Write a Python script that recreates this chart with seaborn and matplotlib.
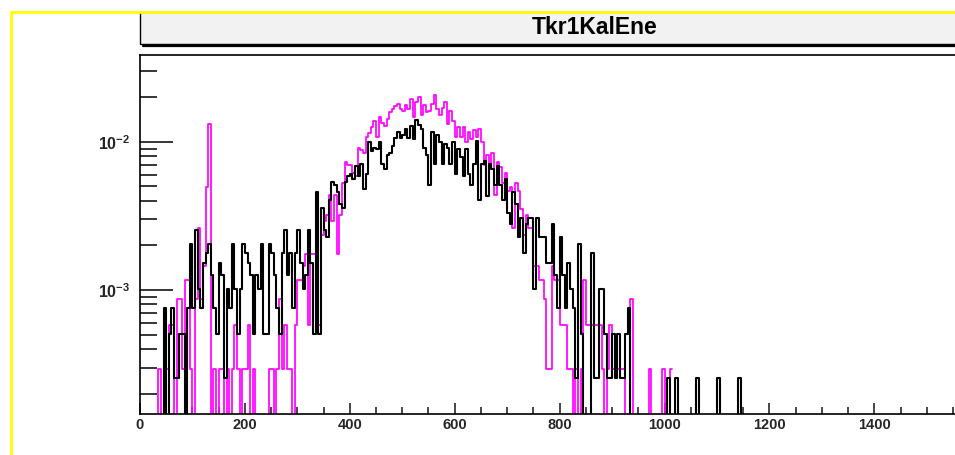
import numpy as np
import pandas as pd
import matplotlib
matplotlib.use("Agg")
import matplotlib.pyplot as plt
from matplotlib.patches import Rectangle
from matplotlib.lines import Line2D
from matplotlib.ticker import (FixedLocator, FixedFormatter, LogLocator,
                               MultipleLocator, NullFormatter)
import seaborn as sns

# ---------------------------------------------------------------- data
title = "Tkr1KalEne"
bin_width = 5.0

# entries per 5-unit bin, starting at 0
black_counts = [
    0, 0, 0, 0, 0, 0, 0, 0, 0, 3,
    0, 2, 3, 1, 1, 2, 2, 0, 3, 8,
    3, 10, 4, 3, 6, 7, 8, 5, 3, 2,
    6, 5, 1, 4, 3, 8, 4, 2, 4, 8,
    7, 6, 5, 2, 5, 4, 8, 2, 2, 8,
    7, 5, 3, 2, 7, 10, 5, 7, 3, 7,
    10, 6, 4, 5, 10, 6, 2, 18, 2, 14,
    10, 9, 16, 21, 20, 18, 15, 14, 21, 23,
    24, 22, 27, 23, 28, 19, 24, 39, 34, 36,
    35, 39, 28, 26, 32, 33, 37, 42, 46, 42,
    44, 48, 42, 50, 41, 55, 51, 48, 36, 32,
    20, 46, 28, 44, 39, 28, 38, 36, 28, 39,
    24, 35, 31, 23, 35, 24, 20, 28, 40, 16,
    28, 29, 17, 28, 26, 20, 27, 20, 16, 22,
    13, 11, 18, 15, 9, 12, 7, 11, 12, 12,
    4, 12, 9, 9, 9, 6, 6, 11, 5, 3,
    9, 5, 3, 6, 4, 3, 1, 8, 2, 0,
    0, 0, 7, 1, 1, 4, 4, 2, 1, 1,
    2, 1, 2, 1, 1, 2, 3, 0, 0, 0,
    0, 0, 0, 0, 0, 0, 0, 0, 0, 0,
    0, 1, 0, 0, 1, 0, 0, 0, 0, 0,
    0, 0, 1, 0, 0, 0, 0, 0, 0, 0,
    1, 0, 0, 0, 0, 0, 0, 0, 1, 0,
]

magenta_counts = [
    0, 0, 0, 0, 0, 0, 0, 1, 0, 0,
    1, 2, 2, 0, 3, 3, 1, 4, 4, 1,
    0, 3, 9, 3, 5, 17, 45, 0, 1, 0,
    1, 1, 0, 1, 0, 1, 2, 1, 0, 1,
    1, 2, 0, 1, 0, 0, 0, 0, 0, 1,
    1, 0, 1, 3, 1, 2, 1, 1, 0, 2,
    4, 4, 5, 6, 2, 6, 6, 8, 2, 8,
    10, 11, 15, 10, 15, 6, 11, 18, 25, 24,
    24, 21, 20, 31, 30, 29, 37, 39, 43, 47,
    37, 50, 46, 44, 49, 54, 57, 60, 62, 57,
    55, 61, 57, 67, 50, 64, 69, 52, 61, 54,
    55, 62, 71, 57, 52, 58, 64, 45, 55, 47,
    37, 43, 37, 43, 34, 40, 36, 41, 37, 42,
    34, 24, 28, 24, 29, 15, 25, 23, 18, 21,
    16, 17, 9, 18, 16, 12, 8, 11, 9, 9,
    5, 5, 4, 4, 3, 1, 1, 5, 4, 4,
    2, 2, 2, 1, 1, 0, 1, 0, 1, 4,
    2, 2, 2, 2, 2, 2, 1, 0, 1, 2,
    1, 1, 1, 1, 1, 0, 0, 3, 0, 0,
    0, 0, 0, 0, 1, 0, 0, 0, 0, 1,
    0, 0, 1,
]

# weight of a single entry after normalisation
black_scale = 2.54e-4
magenta_scale = 2.92e-4

x_major = [0, 200, 400, 600, 800, 1000, 1200, 1400, 1600, 1800, 2000]
x_major_labels = ["0", "200", "400", "600", "800", "1000", "1200", "1400",
                  "", "", ""]
y_major = [1e-3, 1e-2]
y_major_labels = [r"$\mathbf{10^{-3}}$", r"$\mathbf{10^{-2}}$"]

# ---------------------------------------------------------------- style
sns.set_style("white")
plt.rcParams["font.family"] = ["Liberation Sans", "DejaVu Sans"]
plt.rcParams["font.weight"] = "bold"
plt.rcParams["mathtext.fontset"] = "custom"
plt.rcParams["mathtext.rm"] = "Liberation Sans:bold"
plt.rcParams["mathtext.bf"] = "Liberation Sans:bold"

W, H = 955, 455
fig = plt.figure(figsize=(W / 100, H / 100), dpi=100)
fig.patch.set_facecolor("white")

x_min, x_max = 0, 2000
px_per_unit = 0.5245
left_px, top_px, bottom_px = 140, 55, 414
ax = fig.add_axes([left_px / W, (H - bottom_px) / H,
                   (x_max - x_min) * px_per_unit / W,
                   (bottom_px - top_px) / H])
ax.set_facecolor("white")


def hist_frame(counts, scale):
    counts = np.asarray(counts, dtype=float)
    edges = np.arange(len(counts) + 1) * bin_width
    centers = edges[:-1] + bin_width / 2
    return pd.DataFrame({"x": centers, "w": counts * scale}), edges.tolist()


mag_df, mag_edges = hist_frame(magenta_counts, magenta_scale)
blk_df, blk_edges = hist_frame(black_counts, black_scale)

sns.histplot(data=mag_df, x="x", weights="w", bins=mag_edges,
             element="step", fill=False, color="#ff00ff", linewidth=1.25,
             ax=ax)
sns.histplot(data=blk_df, x="x", weights="w", bins=blk_edges,
             element="step", fill=False, color="black", linewidth=1.5,
             ax=ax)

ax.set_yscale("log")
ax.set_xlim(x_min, x_max)
ax.set_ylim(1.46e-4, 0.0385)
ax.set_xlabel("")
ax.set_ylabel("")

for side in ["left", "bottom", "top", "right"]:
    ax.spines[side].set_visible(True)
    ax.spines[side].set_color("black")
    ax.spines[side].set_linewidth(1.2)

ax.xaxis.set_major_locator(FixedLocator(x_major))
ax.xaxis.set_major_formatter(FixedFormatter(x_major_labels))
ax.xaxis.set_minor_locator(MultipleLocator(50))
ax.yaxis.set_major_locator(FixedLocator(y_major))
ax.yaxis.set_major_formatter(FixedFormatter(y_major_labels))
ax.yaxis.set_minor_locator(LogLocator(base=10, subs=np.arange(2, 10), numticks=30))
ax.yaxis.set_minor_formatter(NullFormatter())

ax.tick_params(axis="x", which="major", direction="in", length=8, width=1.2,
               pad=3, labelsize=10.5, bottom=True, top=False)
ax.tick_params(axis="x", which="minor", direction="in", length=5, width=1.2,
               bottom=True, top=False)
ax.tick_params(axis="y", which="major", direction="in", length=24, width=1.3,
               pad=7, labelsize=11.5, left=True, right=False)
ax.tick_params(axis="y", which="minor", direction="in", length=12, width=1.3,
               left=True, right=False)
for lab in ax.get_xticklabels():
    lab.set_fontweight("bold")

# ---------------------------------------------------------------- title box


def fx(px):
    return px / W


def fy(py):
    return 1 - py / H


box = Rectangle((fx(140), fy(44)), fx(830), (44 - 12) / H,
                transform=fig.transFigure, facecolor="#f2f2f2",
                edgecolor="black", linewidth=1.0, zorder=1)
fig.add_artist(box)
fig.add_artist(Line2D([fx(143), fx(960)], [fy(45.5), fy(45.5)],
                      transform=fig.transFigure, color="black",
                      linewidth=1.6, zorder=2))
fig.text(fx(595), fy(28), title, ha="center", va="center",
         fontsize=16.5, fontweight="bold", color="black", zorder=3)

# outer pad frame
yellow = "#ffff00"
fig.add_artist(Line2D([fx(10.5), fx(960)], [fy(11.5), fy(11.5)],
                      transform=fig.transFigure, color=yellow,
                      linewidth=2.0, zorder=4))
fig.add_artist(Line2D([fx(10.5), fx(10.5)], [fy(11.5), fy(460)],
                      transform=fig.transFigure, color=yellow,
                      linewidth=2.0, zorder=4))

fig.savefig("out.png", dpi=100)
